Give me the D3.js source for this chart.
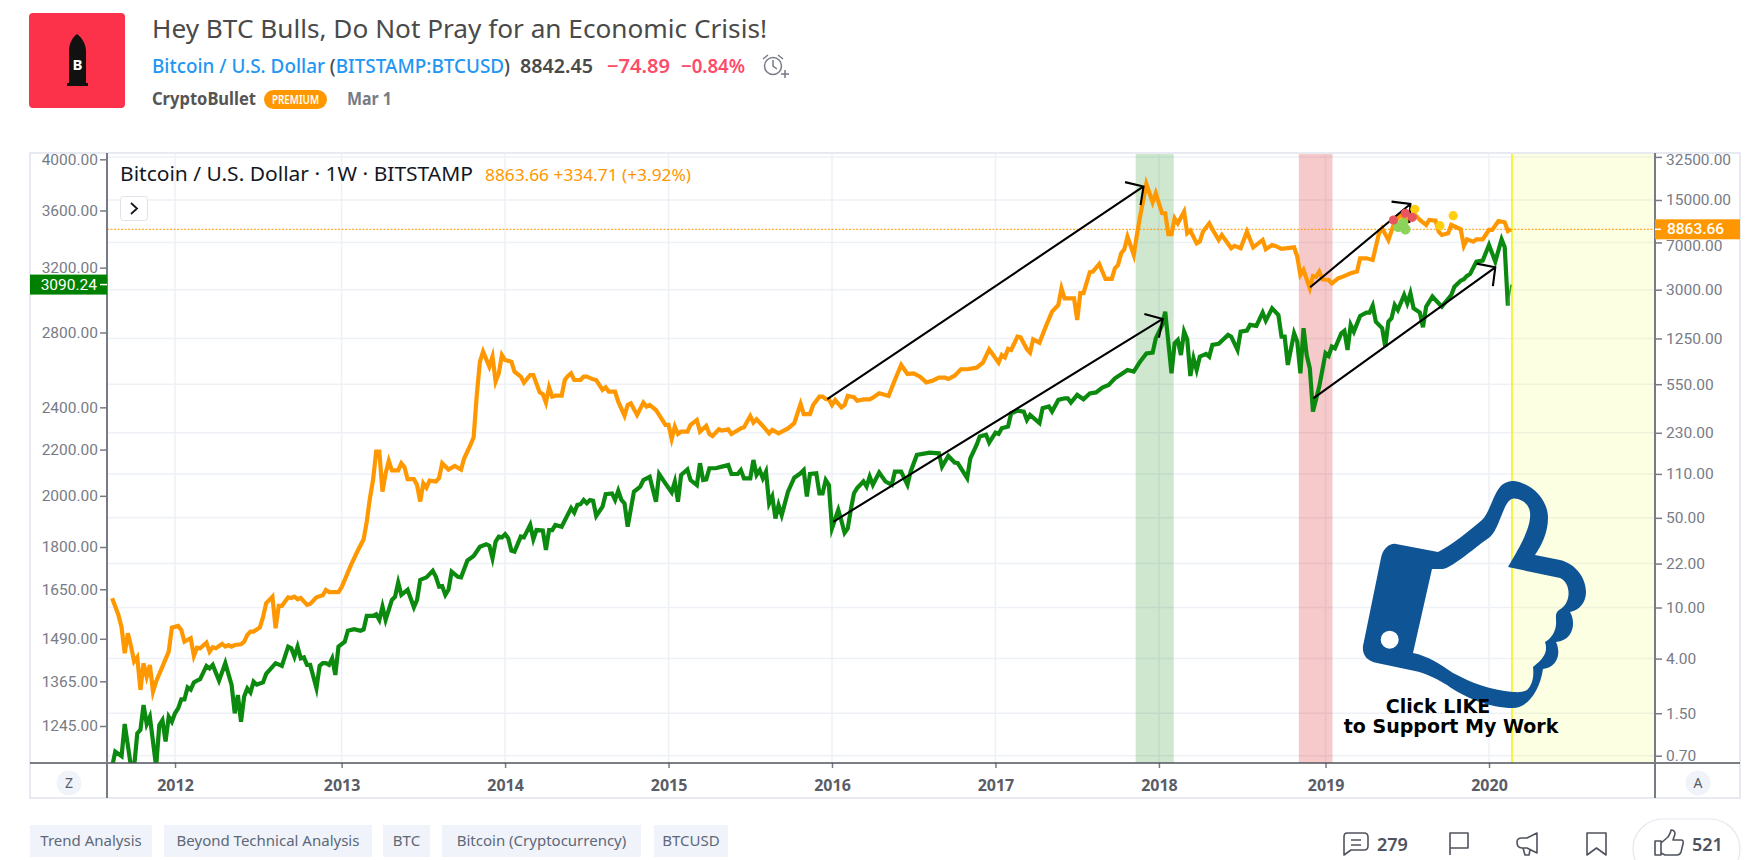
<!DOCTYPE html>
<html>
<head>
<meta charset="utf-8">
<title>Hey BTC Bulls, Do Not Pray for an Economic Crisis!</title>
<script src="https://d3js.org/d3.v7.min.js"></script>
<style>
  html, body { margin: 0; background: #fff; overflow: hidden; }
  text { font-family: "Noto Sans", sans-serif; }
</style>
</head>
<body>
<svg id="chart" width="1752" height="860"></svg>
<script>
// weeks are counted from the first weekly bar, 2011-08-15
var firstBar = "2011-08-15";

// BTCUSD weekly closes: [week, price]
var btcClose = [
  [0,11.8],[1,10.2],[2,8.75],[3,7.0],[4,4.4],[5,6.3],[6,5.0],[7,3.8],[8,4.1],[9,2.28],
  [10,3.67],[11,2.89],[12,3.56],[13,2.21],[14,2.65],[16,3.46],[18,4.53],[19,6.97],[21,7.18],[22,6.68],
  [23,5.42],[25,5.76],[26,4.19],[27,4.86],[28,4.81],[30,5.33],[31,4.53],[32,4.9],[33,4.81],[35,5.2],
  [36,4.96],[37,5.1],[38,4.96],[39,5.1],[41,5.17],[42,5.42],[43,6.11],[44,6.49],[45,6.49],[47,7.0],
  [48,8.4],[49,10.8],[51,12.15],[52,6.89],[53,10.28],[54,10.28],[56,12.0],[57,11.87],[58,12.15],[59,11.6],
  [60,11.87],[62,10.47],[63,10.66],[65,12.0],[67,12.45],[68,13.7],[69,13.2],[72,13.2],[73,14.4],[74,16.4],
  [76,21.5],[78,27.3],[80,34],[81,46.7],[82,71],[83,98.7],[84,164],[85,164],[86,80],[87,111],
  [88,139],[89,117],[91,117],[92,133],[93,124],[94,100],[96,100],[97,90],[98,67],[99,93],
  [100,86],[101,97.5],[103,96],[104,102],[105,133],[107,119],[109,127],[111,119],[112,145.5],[114,185],
  [115,212],[116,453],[117,824],[118,986],[120,754],[121,902],[122,576],[123,669],[124,929],[125,849],
  [127,824],[128,689],[130,630],[131,566],[133,649],[134,649],[136,475],[137,461],[138,395],[139,520],
  [140,440],[141,448],[143,448],[144,593],[145,637],[146,669],[147,593],[149,593],[150,630],[151,630],
  [153,600],[154,593],[156,496],[157,520],[158,481],[160,481],[161,402],[163,313],[164,379],[165,390],
  [167,317],[169,395],[170,368],[171,379],[173,346],[174,317],[176,265],[177,265],[178,206],[179,257],
  [180,225],[181,235],[183,235],[184,265],[186,289],[187,235],[189,260],[190,225],[191,217],[193,245],
  [194,239],[196,245],[197,225],[200,249],[201,254],[203,311],[204,276],[205,293],[207,260],[209,228],
  [210,242],[212,228],[215,249],[217,273],[218,326],[219,386],[220,322],[222,322],[223,379],[225,440],
  [226,440],[227,422],[228,419],[229,379],[230,414],[232,363],[233,379],[234,445],[236,435],[237,409],
  [239,419],[241,419],[242,432],[244,467],[246,453],[247,445],[249,593],[251,777],[253,661],[255,668],
  [257,630],[259,569],[261,586],[263,618],[265,618],[266,604],[268,641],[270,719],[272,719],[275,740],
  [277,810],[279,1029],[282,810],[283,929],[284,891],[285,1035],[286,1016],[288,1291],[289,1276],[291,1029],
  [292,969],[293,1231],[295,1159],[297,1545],[299,2022],[301,2279],[302,3073],[303,2569],[306,2569],[307,1741],
  [308,2815],[309,2815],[311,4100],[312,4150],[314,4763],[316,3637],[318,3637],[319,4405],[320,4678],[321,5770],
  [322,6195],[323,7775],[325,5595],[326,8010],[327,11130],[329,20000],[331,14400],[332,16920],[334,11820],[335,11820],
  [336,8107],[337,8107],[338,10800],[339,9870],[341,12170],[342,8250],[343,8650],[345,6890],[346,7100],[347,8500],
  [349,9870],[350,8860],[352,7320],[353,8005],[356,6300],[357,6580],[359,6300],[361,8500],[363,6417],[366,7320],
  [367,6190],[369,6690],[370,6580],[372,6230],[376,6417],[377,5430],[378,3905],[379,4270],[381,3077],[382,3835],
  [383,3780],[384,4145],[385,3615],[387,3570],[388,3360],[390,3680],[391,3745],[394,4025],[396,4145],[397,5265],
  [399,5265],[401,5112],[403,8250],[404,9023],[406,7320],[408,10170],[410,11460],[412,10170],[414,11800],[416,10480],
  [418,9580],[419,10480],[421,10350],[422,8500],[423,8005],[425,8250],[426,9580],[429,8860],[430,6580],[431,7408],
  [433,7100],[434,7408],[436,7408],[438,8758],[439,8758],[441,10290],[443,10050],[444,8600],[445,8863.66]
];

// green index on the left axis: [week, level]
var indexClose = [
  [0,1145],[1,1181],[3,1170],[4,1250],[6,1145],[7,1145],[8,1226],[9,1235],[10,1300],[11,1250],
  [12,1269],[14,1145],[15,1247],[16,1260],[17,1206],[18,1269],[19,1256],[20,1278],[21,1291],[22,1315],
  [23,1315],[24,1348],[25,1342],[26,1362],[27,1367],[28,1371],[30,1409],[31,1402],[32,1412],[34,1367],
  [36,1417],[38,1355],[39,1278],[40,1327],[41,1256],[42,1323],[43,1345],[44,1334],[45,1364],[46,1356],
  [48,1362],[49,1386],[52,1417],[54,1409],[56,1466],[57,1461],[58,1436],[59,1466],[60,1431],[61,1434],
  [62,1412],[63,1412],[65,1346],[66,1409],[67,1417],[68,1417],[69,1412],[70,1431],[71,1383],[72,1466],
  [74,1481],[75,1515],[77,1520],[79,1515],[80,1519],[81,1562],[83,1562],[84,1567],[85,1549],[86,1592],
  [87,1549],[89,1614],[90,1625],[91,1673],[92,1631],[94,1648],[96,1590],[97,1614],[98,1682],[100,1691],
  [102,1714],[103,1693],[104,1659],[105,1661],[106,1631],[107,1648],[108,1711],[110,1693],[111,1691],[113,1750],
  [115,1767],[117,1801],[119,1810],[120,1805],[121,1759],[122,1820],[123,1839],[124,1836],[125,1848],[126,1833],
  [127,1787],[128,1783],[130,1839],[131,1836],[133,1884],[134,1829],[135,1864],[137,1862],[138,1789],[139,1864],
  [140,1864],[141,1884],[143,1877],[146,1950],[147,1932],[148,1963],[149,1966],[150,1983],[151,1970],[152,1983],
  [153,1980],[154,1919],[156,1956],[157,2007],[159,2010],[160,1983],[161,2021],[162,1983],[163,1969],[164,1877],
  [166,2017],[168,2038],[169,2066],[171,2080],[173,1976],[174,2092],[176,2052],[178,2014],[179,2059],[180,1976],
  [181,2088],[183,2112],[184,2066],[186,2045],[187,2139],[188,2066],[189,2069],[190,2117],[192,2117],[194,2124],
  [196,2131],[197,2092],[199,2092],[200,2109],[201,2073],[203,2073],[204,2153],[205,2088],[206,2109],[207,2073],
  [208,2102],[209,1969],[210,1997],[211,1909],[212,1962],[213,1922],[215,2017],[217,2076],[219,2095],[220,2109],
  [221,1997],[222,2092],[224,2095],[225,2010],[226,2010],[227,2066],[228,2045],[229,1871],[231,1943],[232,1900],
  [233,1853],[234,1870],[235,1945],[236,2011],[237,2032],[239,2060],[240,2039],[241,2081],[242,2046],[244,2098],
  [246,2060],[248,2046],[249,2102],[251,2102],[253,2046],[254,2102],[256,2176],[260,2186],[263,2183],[264,2124],
  [266,2171],[268,2142],[269,2139],[272,2074],[273,2161],[275,2221],[276,2260],[278,2268],[279,2232],[281,2278],
  [282,2272],[283,2299],[285,2307],[286,2371],[288,2384],[290,2379],[291,2338],[292,2363],[295,2323],[296,2396],
  [298,2404],[299,2379],[301,2437],[303,2445],[304,2445],[305,2424],[307,2462],[309,2440],[311,2470],[313,2475],
  [315,2500],[317,2513],[319,2548],[321,2569],[323,2592],[325,2583],[327,2637],[329,2682],[331,2686],[332,2766],
  [334,2843],[335,2923],[337,2574],[338,2739],[339,2757],[340,2673],[341,2805],[342,2761],[343,2560],[344,2655],
  [345,2592],[346,2664],[348,2679],[349,2664],[350,2729],[352,2735],[355,2786],[356,2776],[358,2701],[359,2805],
  [361,2811],[362,2844],[364,2838],[366,2917],[367,2869],[369,2943],[371,2903],[372,2776],[373,2776],[374,2619],
  [376,2795],[377,2748],[378,2574],[379,2825],[380,2673],[381,2601],[382,2379],[384,2505],[386,2683],[387,2668],
  [388,2720],[389,2710],[391,2795],[392,2809],[393,2701],[394,2844],[395,2805],[397,2897],[399,2917],[400,2917],
  [401,2959],[402,2863],[404,2825],[405,2720],[406,2863],[407,2883],[408,2963],[409,2933],[411,3025],[412,2973],
  [413,3035],[414,2943],[416,2917],[417,2830],[418,2953],[420,3015],[421,2994],[423,2953],[426,3025],[427,3077],
  [429,3115],[430,3125],[431,3146],[432,3159],[434,3240],[436,3247],[438,3353],[440,3240],[442,3392],[443,3337],
  [444,2959],[445,3090.24]
];

var leftTicks = [4000, 3600, 3200, 2800, 2400, 2200, 2000, 1800, 1650, 1490, 1365, 1245];
var rightTicks = [32500, 15000, 7000, 3000, 1250, 550, 230, 110, 50, 22, 10, 4, 1.5, 0.7];
var yearTicks = ["2012-01-02", "2013-01-07", "2014-01-06", "2015-01-05", "2016-01-04", "2017-01-02", "2018-01-01", "2019-01-07", "2020-01-06"];

// shaded weeks: [from, to]
var greenBand = [325.6, 337.7];
var redBand = [377.5, 388.2];
var yellowStart = 445.3;

// trend arrows: [fromWeek, fromValue, toWeek, toValue]
var btcArrows = [[227.5, 420, 328.1, 19130], [381.1, 3130, 413, 13957]];
var indexArrows = [[229.4, 1896, 334.2, 2879], [382.1, 2445, 440, 3202]];

// idea markers on the price line: [week, price]
var redDots = [[407.6, 10473], [411.4, 11812], [413.6, 10994]];
var yellowDots = [[414.4, 12690], [422.4, 9455], [426.6, 11314]];
var greenDots = [[409.1, 9287], [410.7, 9871], [411.4, 8864]];

var tags = ["Trend Analysis", "Beyond Technical Analysis", "BTC", "Bitcoin (Cryptocurrency)", "BTCUSD"];

var svg = d3.select("#chart");
var parseDay = d3.utcParse("%Y-%m-%d");

var plotLeft = 107, plotRight = 1655, plotTop = 153, plotBottom = 763;

var x = d3.scaleUtc().domain([parseDay("2012-01-02"), parseDay("2020-01-06")]).range([175, 1489]);
var yLeft = d3.scaleLog().domain([1245, 4000]).range([726, 159.3]);
var yRight = d3.scaleLog().domain([0.7, 8863.66]).range([755.7, 229.3]);

function weekX(w) {
  return x(d3.utcHour.offset(parseDay(firstBar), Math.round(w * 7 * 24)));
}

// ---- header ----
svg.append("rect").attr("x", 29).attr("y", 13).attr("width", 96).attr("height", 95).attr("rx", 4).attr("fill", "#fb3249");
svg.append("path").attr("fill", "#111")
  .attr("d", "M67 86V83H69V51C69 43 73 37 77 34C81 37 86 43 86 51V83H88V86Z");
svg.append("text").attr("x", 77.5).attr("y", 70).attr("text-anchor", "middle").attr("fill", "#fff")
  .style("font-size", "15px").style("font-weight", 700).text("B");

function headText(str, xPos, y, size, color, weight, len) {
  var t = svg.append("text").attr("x", xPos).attr("y", y).attr("fill", color)
    .style("font-size", size + "px").style("font-weight", weight).text(str);
  if (len) t.attr("textLength", len).attr("lengthAdjust", "spacingAndGlyphs");
  return t;
}

headText("Hey BTC Bulls, Do Not Pray for an Economic Crisis!", 152, 38, 25, "#4a4a4a", 400, 615);

var symbol = svg.append("text").attr("x", 152).attr("y", 73).attr("textLength", 358).attr("lengthAdjust", "spacingAndGlyphs")
  .style("font-size", "19px").style("font-weight", 500);
symbol.append("tspan").attr("fill", "#2196f3").text("Bitcoin / U.S. Dollar ");
symbol.append("tspan").attr("fill", "#4a4a4a").text("(");
symbol.append("tspan").attr("fill", "#2196f3").text("BITSTAMP:BTCUSD");
symbol.append("tspan").attr("fill", "#4a4a4a").text(")");

headText("8842.45", 520, 73, 19, "#4a4a4a", 600, 73);
headText("\u221274.89", 607, 73, 19, "#ff4a68", 600, 63);
headText("\u22120.84%", 681, 73, 19, "#ff4a68", 600, 64);
headText("CryptoBullet", 152, 105, 17, "#555", 700, 104);
svg.append("rect").attr("x", 264).attr("y", 90).attr("width", 63).attr("height", 19).attr("rx", 9.5).attr("fill", "#ff9800");
headText("PREMIUM", 272, 104, 12, "#fff", 600, 47);
headText("Mar 1", 347, 105, 17, "#787b86", 700, 45);

var alarm = svg.append("g").attr("fill", "none").attr("stroke", "#787b86").attr("stroke-width", 1.5);
alarm.append("circle").attr("cx", 773).attr("cy", 66).attr("r", 8.5);
alarm.append("path").attr("d", "M773 60V66L777 69M763 59L768 55M778 55L783 59M781 74H789M785 70V78");

// ---- chart frame ----
svg.append("rect").attr("x", 30).attr("y", plotTop).attr("width", 1710).attr("height", 645)
  .attr("fill", "#fff").attr("stroke", "#e0e3eb").attr("stroke-width", 1.5);

// grid
svg.append("g").selectAll("line").data(rightTicks).join("line")
  .attr("x1", plotLeft).attr("x2", plotRight).attr("y1", function(d) { return yRight(d); }).attr("y2", function(d) { return yRight(d); })
  .attr("stroke", "#edf1f6").attr("stroke-width", 1.5);
svg.append("g").selectAll("line").data(yearTicks).join("line")
  .attr("x1", function(d) { return x(parseDay(d)); }).attr("x2", function(d) { return x(parseDay(d)); })
  .attr("y1", plotTop).attr("y2", plotBottom)
  .attr("stroke", "#edf1f6").attr("stroke-width", 1.5);

// shaded periods
function band(from, to, color) {
  svg.append("rect").attr("x", weekX(from)).attr("width", weekX(to) - weekX(from))
    .attr("y", plotTop + 1).attr("height", plotBottom - plotTop - 1).attr("fill", color);
}
band(greenBand[0], greenBand[1], "rgba(16,137,16,0.2)");
band(redBand[0], redBand[1], "rgba(224,60,70,0.28)");
svg.append("rect").attr("x", weekX(yellowStart)).attr("width", plotRight - weekX(yellowStart))
  .attr("y", plotTop + 1).attr("height", plotBottom - plotTop - 1).attr("fill", "rgba(245,255,140,0.25)");
svg.append("line").attr("x1", weekX(yellowStart)).attr("x2", weekX(yellowStart)).attr("y1", plotTop + 1).attr("y2", plotBottom)
  .attr("stroke", "#f2f500").attr("stroke-width", 1.5);

// last price line
svg.append("line").attr("x1", plotLeft).attr("x2", plotRight).attr("y1", yRight(8863.66)).attr("y2", yRight(8863.66))
  .attr("stroke", "#ff9800").attr("stroke-width", 1).attr("stroke-dasharray", "2 1.5");

// series
svg.append("clipPath").attr("id", "plot").append("rect")
  .attr("x", plotLeft).attr("y", plotTop).attr("width", plotRight - plotLeft).attr("height", plotBottom - plotTop);
var plot = svg.append("g").attr("clip-path", "url(#plot)");

var btcLine = d3.line().x(function(d) { return weekX(d[0]); }).y(function(d) { return yRight(d[1]); });
var indexLine = d3.line().x(function(d) { return weekX(d[0]); }).y(function(d) { return yLeft(d[1]); });

plot.append("path").attr("d", indexLine(indexClose.slice(0, -1))).attr("fill", "none").attr("stroke", "#0c8a10")
  .attr("stroke-width", 4.2).attr("stroke-linejoin", "miter").attr("stroke-miterlimit", 5);
// the running week of the index is only a thin stub
plot.append("path").attr("d", indexLine(indexClose.slice(-2))).attr("fill", "none").attr("stroke", "#2f9e26")
  .attr("stroke-width", 1.6);
plot.append("path").attr("d", btcLine(btcClose)).attr("fill", "none").attr("stroke", "#ff9800")
  .attr("stroke-width", 4.2).attr("stroke-linejoin", "miter").attr("stroke-miterlimit", 5);

// arrows
function arrow(a, y) {
  var x0 = weekX(a[0]), y0 = y(a[1]), x1 = weekX(a[2]), y1 = y(a[3]);
  var ang = Math.atan2(y1 - y0, x1 - x0), len = 19, spread = 47 * Math.PI / 180;
  var p = d3.path();
  p.moveTo(x0, y0);
  p.lineTo(x1, y1);
  p.moveTo(x1 - len * Math.cos(ang - spread), y1 - len * Math.sin(ang - spread));
  p.lineTo(x1, y1);
  p.lineTo(x1 - len * Math.cos(ang + spread), y1 - len * Math.sin(ang + spread));
  plot.append("path").attr("d", p.toString()).attr("fill", "none").attr("stroke", "#000").attr("stroke-width", 2.1);
}
btcArrows.forEach(function(a) { arrow(a, yRight); });
indexArrows.forEach(function(a) { arrow(a, yLeft); });

// idea dots
function dots(list, color, r) {
  plot.append("g").selectAll("circle").data(list).join("circle")
    .attr("cx", function(d) { return weekX(d[0]); }).attr("cy", function(d) { return yRight(d[1]); })
    .attr("r", r).attr("fill", color);
}
dots(yellowDots, "#ffcf0f", 4.6);
dots(greenDots, "#8bd35a", 5.2);
dots(redDots, "#e8555f", 4.6);

// like thumb
var thumbOuter = "M1396 544L1438 552C1452 545 1470 530 1482 520C1490 512 1492 497 1500 487C1504 482 1510 481 1514 481" +
  "C1530 483 1548 498 1548 518C1548 532 1542 545 1535 555L1560 560C1576 564 1586 578 1586 592C1586 602 1580 610 1570 612" +
  "C1576 622 1574 640 1556 642C1562 655 1556 668 1543 669C1540 690 1528 708 1513 708C1490 708 1465 698 1447 685" +
  "C1432 676 1424 673 1415 671L1377 663C1367 661 1362 655 1363 646L1381 558C1383 548 1390 543 1396 544Z";
var thumbInner = "M1432 569L1443 569C1452 568 1478 545 1490 537C1498 530 1502 510 1508 502C1511 498 1514 498 1518 499" +
  "C1527 502 1531 508 1530 518C1529 532 1516 553 1508 567L1560 578C1570 582 1572 600 1562 608C1555 612 1556 615 1556 620" +
  "C1557 630 1552 638 1545 642C1547 648 1546 653 1543 657C1540 662 1536 664 1533 667C1534 675 1533 685 1527 690" +
  "C1522 693 1516 692 1513 692C1490 690 1472 683 1453 673C1440 664 1428 656 1413 653Z";
var thumbHole = "M1380.7 639.7a9 9 0 1 0 18 0a9 9 0 1 0 -18 0Z";
svg.append("path").attr("d", thumbOuter + thumbInner + thumbHole).attr("fill", "#0f5596").attr("fill-rule", "evenodd");

svg.append("text").attr("x", 1438).attr("y", 713).attr("text-anchor", "middle").attr("fill", "#000")
  .style("font-family", "DejaVu Sans").style("font-weight", 700).style("font-size", "19px").text("Click LIKE");
svg.append("text").attr("x", 1451).attr("y", 733).attr("text-anchor", "middle").attr("fill", "#000")
  .style("font-family", "DejaVu Sans").style("font-weight", 700).style("font-size", "19px").text("to Support My Work");

// ---- axes ----
var axisColor = "#787b86";

var leftAxis = svg.append("g").attr("transform", "translate(" + plotLeft + ",0)")
  .call(d3.axisLeft(yLeft).tickValues(leftTicks).tickFormat(d3.format(".2f")).tickSize(7).tickPadding(2));
var rightAxis = svg.append("g").attr("transform", "translate(" + plotRight + ",0)")
  .call(d3.axisRight(yRight).tickValues(rightTicks).tickFormat(d3.format(".2f")).tickSize(7).tickPadding(4));
var timeAxis = svg.append("g").attr("transform", "translate(0," + plotBottom + ")")
  .call(d3.axisBottom(x).tickValues(yearTicks.map(parseDay)).tickFormat(d3.utcFormat("%Y")).tickSize(5).tickPadding(12));

[leftAxis, rightAxis].forEach(function(a) {
  a.select(".domain").remove();
  a.selectAll("text").attr("fill", axisColor).style("font-family", "Roboto").style("font-size", "15.5px");
  a.selectAll("line").attr("stroke", axisColor).attr("stroke-width", 1.5);
});
timeAxis.select(".domain").remove();
timeAxis.selectAll("text").attr("fill", "#5a5d68").style("font-size", "16px").style("font-weight", 700);
timeAxis.selectAll("line").attr("stroke", axisColor).attr("stroke-width", 1.5);

// the 7000 label sits just under the orange price tag
rightAxis.selectAll(".tick text").filter(function(d) { return d === 7000; }).attr("dy", "0.55em");
// the top labels sit a little below their ticks
rightAxis.selectAll(".tick text").filter(function(d) { return d === 32500; }).attr("dy", "0.5em");

svg.append("line").attr("x1", 30).attr("x2", 1740).attr("y1", plotBottom).attr("y2", plotBottom).attr("stroke", "#50535e").attr("stroke-width", 1.5);
svg.append("line").attr("x1", plotLeft).attr("x2", plotLeft).attr("y1", plotTop).attr("y2", 798).attr("stroke", axisColor).attr("stroke-width", 2);
svg.append("line").attr("x1", plotRight).attr("x2", plotRight).attr("y1", plotTop).attr("y2", 798).attr("stroke", axisColor).attr("stroke-width", 2);

// price tags on the axes
svg.append("rect").attr("x", plotRight).attr("y", yRight(8863.66) - 10).attr("width", 85).attr("height", 20).attr("fill", "#ff9800");
svg.append("text").attr("x", 1667).attr("y", yRight(8863.66) + 5).attr("fill", "#fff").style("font-family", "Roboto").style("font-size", "15.5px").style("font-weight", 500).text("8863.66");
svg.append("line").attr("x1", plotRight).attr("x2", plotRight + 6).attr("y1", yRight(8863.66)).attr("y2", yRight(8863.66)).attr("stroke", "#fff").attr("stroke-width", 1.5);

svg.append("rect").attr("x", 30).attr("y", yLeft(3090.24) - 10).attr("width", plotLeft - 30).attr("height", 20).attr("fill", "#008000");
svg.append("text").attr("x", 97).attr("y", yLeft(3090.24) + 5.5).attr("text-anchor", "end").attr("fill", "#fff").style("font-family", "Roboto").style("font-size", "15.5px").text("3090.24");
svg.append("line").attr("x1", plotLeft - 7).attr("x2", plotLeft).attr("y1", yLeft(3090.24)).attr("y2", yLeft(3090.24)).attr("stroke", "#fff").attr("stroke-width", 1.5);

// legend
headText("Bitcoin / U.S. Dollar \u00b7 1W \u00b7 BITSTAMP", 120, 181, 20, "#131722", 400, 353);
headText("8863.66  +334.71 (+3.92%)", 485, 181, 16, "#ff9800", 400, 206);
svg.append("rect").attr("x", 120.5).attr("y", 196.5).attr("width", 27).attr("height", 24).attr("rx", 3)
  .attr("fill", "#fff").attr("stroke", "#dfe2e8");
svg.append("path").attr("d", "M131 203L137 208.5L131 214").attr("fill", "none").attr("stroke", "#131722").attr("stroke-width", 1.8);

// Z / A buttons
[[69, "Z"], [1698, "A"]].forEach(function(b) {
  svg.append("circle").attr("cx", b[0]).attr("cy", 783).attr("r", 12.5).attr("fill", "#f0f3fa");
  svg.append("text").attr("x", b[0]).attr("y", 788).attr("text-anchor", "middle").attr("fill", "#5a5d68").style("font-size", "14px").text(b[1]);
});

// ---- footer ----
var tagBox = [[30, 122], [164, 208], [383, 47], [442, 199], [654, 74]];
tags.forEach(function(t, i) {
  svg.append("rect").attr("x", tagBox[i][0]).attr("y", 825).attr("width", tagBox[i][1]).attr("height", 32).attr("fill", "#f0f3fa");
  svg.append("text").attr("x", tagBox[i][0] + tagBox[i][1] / 2).attr("y", 846).attr("text-anchor", "middle")
    .attr("fill", "#5d6878").style("font-size", "15px").text(t);
});

svg.append("rect").attr("x", 1633).attr("y", 819).attr("width", 107).attr("height", 60).attr("rx", 30)
  .attr("fill", "#fff").attr("stroke", "#e6e8ee").attr("stroke-width", 1.2);

var icons = svg.append("g").attr("fill", "none").attr("stroke", "#50535e").attr("stroke-width", 1.6).attr("stroke-linejoin", "round");
icons.append("path").attr("d", "M1347 833H1364Q1368 833 1368 837V846Q1368 850 1364 850H1351L1344 855V837Q1344 833 1347 833ZM1351 840H1361M1351 845H1361");
icons.append("path").attr("d", "M1450 855V833H1468V848H1450");
icons.append("path").attr("d", "M1537 833V853L1527 848H1522Q1517 848 1517 842Q1517 838 1522 838H1527ZM1523 848L1525 855H1529L1530 850");
icons.append("path").attr("d", "M1587 833H1606V855L1596.5 848L1587 855Z");
icons.append("path").attr("d", "M1655 841H1661V855H1655ZM1661 843L1668 837Q1671 832 1671 830Q1675 830 1675 834L1673 840H1681Q1684 840 1683 844L1681 852Q1680 855 1677 855H1665L1661 853");

svg.append("text").attr("x", 1377).attr("y", 851).attr("fill", "#50535e").style("font-size", "18px").style("font-weight", 600).text("279");
svg.append("text").attr("x", 1692).attr("y", 851).attr("fill", "#50535e").style("font-size", "18px").style("font-weight", 600).text("521");
</script>
</body>
</html>
